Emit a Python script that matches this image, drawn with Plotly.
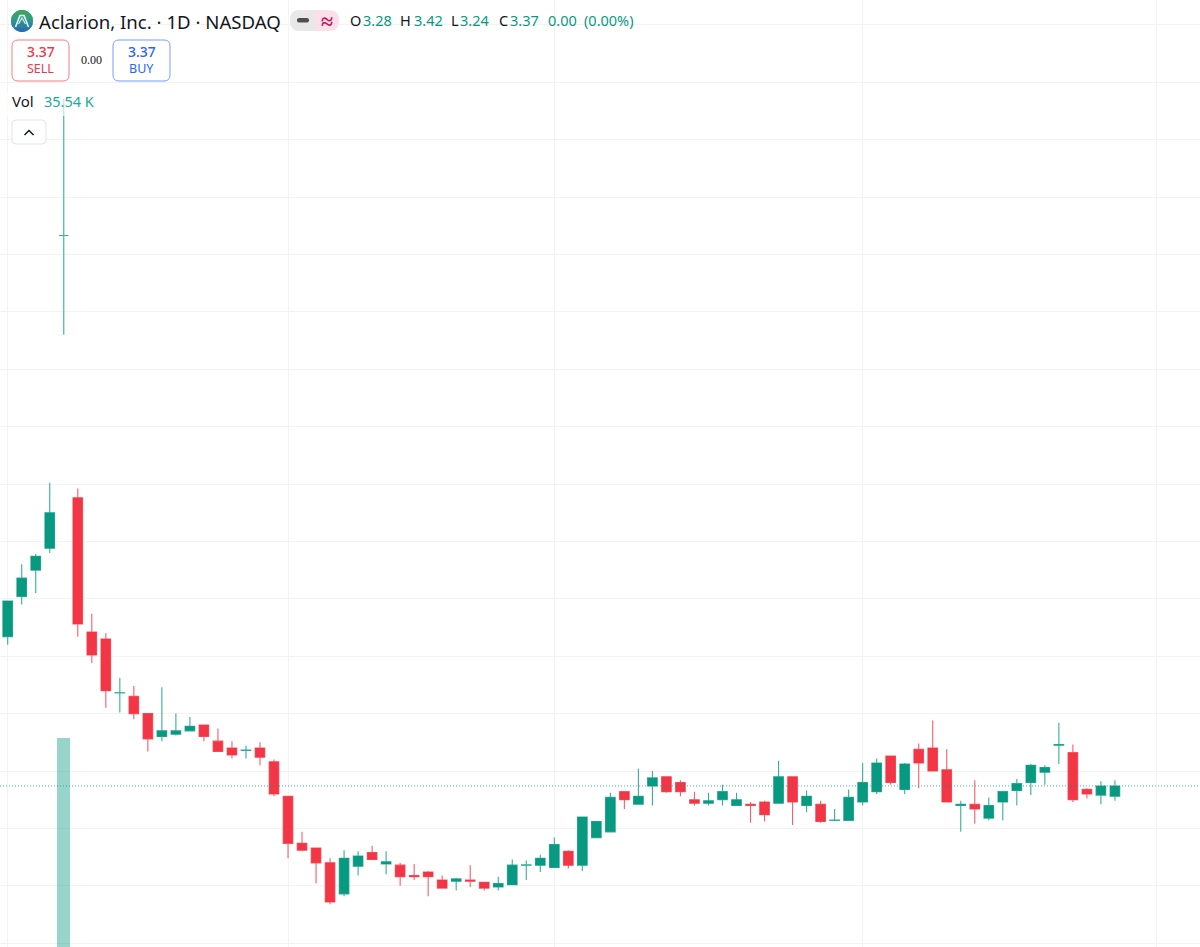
import plotly.graph_objects as go

# Precios diarios (80 velas)
opens = [4.67, 5.02, 5.25, 5.44, 8.165, 5.88, 4.71, 4.65, 4.18, 4.15,
         4.00, 3.80, 3.82, 3.85, 3.90, 3.76, 3.70, 3.68, 3.70, 3.58,
         3.28, 2.87, 2.83, 2.70, 2.43, 2.67, 2.79, 2.69, 2.68, 2.59,
         2.62, 2.55, 2.54, 2.55, 2.53, 2.49, 2.51, 2.68, 2.68, 2.66,
         2.80, 2.68, 2.92, 2.97, 3.32, 3.21, 3.37, 3.45, 3.40, 3.25,
         3.22, 3.25, 3.20, 3.21, 3.23, 3.22, 3.45, 3.20, 3.21, 3.07,
         3.07, 3.23, 3.32, 3.63, 3.34, 3.69, 3.70, 3.51, 3.20, 3.21,
         3.09, 3.23, 3.33, 3.40, 3.49, 3.725, 3.66, 3.34, 3.29, 3.28]
highs = [4.98, 5.30, 5.39, 6.01, 9.36, 5.96, 4.87, 4.70, 4.31, 4.24,
         4.00, 4.23, 4.00, 3.97, 3.90, 3.87, 3.76, 3.72, 3.75, 3.60,
         3.28, 2.97, 2.83, 2.74, 2.81, 2.80, 2.85, 2.80, 2.70, 2.69,
         2.63, 2.59, 2.57, 2.68, 2.53, 2.58, 2.73, 2.72, 2.77, 2.92,
         2.81, 3.10, 3.06, 3.31, 3.32, 3.52, 3.50, 3.45, 3.42, 3.32,
         3.31, 3.38, 3.31, 3.23, 3.24, 3.59, 3.45, 3.33, 3.24, 3.17,
         3.34, 3.57, 3.61, 3.63, 3.57, 3.74, 3.94, 3.69, 3.24, 3.42,
         3.27, 3.32, 3.43, 3.56, 3.55, 3.92, 3.73, 3.35, 3.41, 3.42]
lows = [4.60, 4.95, 5.05, 5.40, 7.30, 4.67, 4.44, 4.05, 4.01, 3.95,
        3.67, 3.76, 3.81, 3.85, 3.76, 3.67, 3.61, 3.61, 3.55, 3.28,
        2.74, 2.80, 2.52, 2.34, 2.41, 2.59, 2.73, 2.60, 2.50, 2.55,
        2.41, 2.48, 2.46, 2.49, 2.46, 2.46, 2.51, 2.55, 2.62, 2.66,
        2.65, 2.63, 2.92, 2.97, 3.17, 3.21, 3.20, 3.31, 3.28, 3.20,
        3.20, 3.20, 3.20, 3.05, 3.06, 3.22, 3.03, 3.14, 3.05, 3.07,
        3.07, 3.20, 3.30, 3.38, 3.30, 3.35, 3.50, 3.23, 2.97, 3.04,
        3.07, 3.07, 3.20, 3.29, 3.38, 3.56, 3.23, 3.26, 3.21, 3.24]
closes = [4.98, 5.18, 5.37, 5.75, 8.165, 4.78, 4.51, 4.20, 4.182, 4.00,
          3.78, 3.85, 3.85, 3.89, 3.80, 3.67, 3.64, 3.682, 3.62, 3.30,
          2.87, 2.81, 2.70, 2.36, 2.74, 2.76, 2.73, 2.71, 2.58, 2.58,
          2.58, 2.48, 2.56, 2.54, 2.48, 2.52, 2.68, 2.682, 2.74, 2.86,
          2.68, 3.10, 3.06, 3.27, 3.25, 3.28, 3.44, 3.32, 3.32, 3.22,
          3.24, 3.32, 3.25, 3.20, 3.12, 3.45, 3.23, 3.28, 3.06, 3.072,
          3.27, 3.40, 3.57, 3.40, 3.56, 3.57, 3.50, 3.23, 3.21, 3.17,
          3.20, 3.32, 3.39, 3.55, 3.53, 3.73, 3.25, 3.30, 3.37, 3.37]
sessions = list(range(len(opens)))

# Volumen: solo la barra de la vela 4 se distingue; la ultima sale en la leyenda
volume_sessions = [4, 79]
volume_values = [18000000, 35540]

price_ticks = [2.0, 2.5, 3.0, 3.5, 4.0, 4.5, 5.0, 5.5, 6.0, 6.5, 7.0, 7.5, 8.0, 8.5, 9.0, 9.5, 10.0]
session_ticks = [0, 20, 39, 61, 82]

last_close = 3.37
UP = "#089981"
DOWN = "#f23645"
W, H = 1200, 947


def px(x):
    return x / W


def py(y):
    return 1 - y / H


def pth(*cmds):
    # lista plana de comandos SVG en pixeles de pantalla -> coordenadas paper
    out = []
    for c in cmds:
        if c[0] == "Z":
            out.append("Z")
        elif c[0] == "Q":
            out.append(f"Q {px(c[1])} {py(c[2])} {px(c[3])} {py(c[4])}")
        else:
            out.append(f"{c[0]} {px(c[1])} {py(c[2])}")
    return " ".join(out)


def box(x0, y0, x1, y1, r):
    return pth(("M", x0 + r, y0), ("L", x1 - r, y0), ("Q", x1, y0, x1, y0 + r),
               ("L", x1, y1 - r), ("Q", x1, y1, x1 - r, y1),
               ("L", x0 + r, y1), ("Q", x0, y1, x0, y1 - r),
               ("L", x0, y0 + r), ("Q", x0, y0, x0 + r, y0), ("Z",))


def solid(path, fill):
    return dict(type="path", xref="paper", yref="paper", path=path, fillcolor=fill, line=dict(width=0))


def stroke(path, color, width):
    return dict(type="path", xref="paper", yref="paper", path=path, line=dict(color=color, width=width))


def outlined(path, color):
    return dict(type="path", xref="paper", yref="paper", path=path, fillcolor="white", line=dict(color=color, width=1))


def label(x, y, text, size=14, color="#131722", family="Noto Sans", anchor="left", weight=400):
    return dict(
        x=px(x), y=py(y), xref="paper", yref="paper", text=text, showarrow=False,
        xanchor=anchor, yanchor="middle", borderpad=0,
        font=dict(size=size, color=color, family=family, weight=weight),
    )


fig = go.Figure()

fig.add_trace(go.Bar(
    x=volume_sessions, y=volume_values, yaxis="y2", width=0.95,
    marker=dict(color="rgba(8,153,129,0.42)", line=dict(width=0)),
    hoverinfo="skip",
))

fig.add_trace(go.Candlestick(
    x=sessions, open=opens, high=highs, low=lows, close=closes,
    whiskerwidth=0,
    increasing=dict(line=dict(color="rgba(8,153,129,0.8)", width=1.1), fillcolor=UP),
    decreasing=dict(line=dict(color="rgba(242,54,69,0.8)", width=1.1), fillcolor=DOWN),
))

shapes = [
    # linea del ultimo precio
    dict(type="line", xref="paper", x0=0, x1=1, yref="y", y0=last_close, y1=last_close,
         line=dict(color="rgba(8,153,129,0.75)", width=1, dash="1px,2px")),
    # fondo de la fila Vol
    dict(type="rect", xref="paper", yref="paper", x0=px(4), x1=px(100), y0=py(116), y1=py(92),
         fillcolor="rgba(255,255,255,0.65)", line=dict(width=0)),
    # logo: bandas del degradado verde-azul
    dict(type="circle", xref="paper", yref="paper", x0=px(11), x1=px(33), y0=py(32), y1=py(10),
         fillcolor="#2f9490", line=dict(width=0)),
    solid(pth(("M", 13.2, 14.4), ("Q", 22, 5.6, 30.8, 14.4), ("Z",)), "#3ca55c"),
    solid(pth(("M", 13.2, 14.4), ("L", 30.8, 14.4), ("Q", 32.6, 16.2, 32.78, 18.8),
              ("L", 11.22, 18.8), ("Q", 11.4, 16.2, 13.2, 14.4), ("Z",)), "#35a078"),
    solid(pth(("M", 13.2, 27.6), ("L", 30.8, 27.6), ("Q", 32.6, 25.8, 32.78, 23.2),
              ("L", 11.22, 23.2), ("Q", 11.4, 25.8, 13.2, 27.6), ("Z",)), "#2c83a0"),
    solid(pth(("M", 13.2, 27.6), ("Q", 22, 36.4, 30.8, 27.6), ("Z",)), "#2a6fb0"),
    stroke(pth(("M", 15.5, 27), ("L", 20, 15.5), ("L", 24, 15.5), ("L", 28.5, 27)), "rgba(255,255,255,0.9)", 1.6),
    stroke(pth(("M", 18.5, 24), ("L", 22, 18), ("L", 25.5, 24)), "rgba(255,255,255,0.8)", 1.2),
    # pastilla de estado
    solid(box(290, 10, 339, 31, 10), "#fcdfe9"),
    solid(pth(("M", 315, 10), ("L", 300, 10), ("Q", 290, 10, 290, 20.5),
              ("Q", 290, 31, 300, 31), ("L", 315, 31), ("Z",)), "#e8e8e8"),
    solid(box(297, 18, 309, 22.5, 2), "#4f4f4f"),
    # botones
    outlined(box(12, 40, 69, 81, 6), "#f77c80"),
    outlined(box(113, 40, 170, 81, 6), "#7a9bff"),
    outlined(box(12, 120, 46, 144, 4), "#e0e3eb"),
    stroke(pth(("M", 24.5, 135), ("L", 29, 130.5), ("L", 33.5, 135)), "#131722", 1.5),
]

annotations = [
    label(38, 21, "Aclarion, Inc. · 1D · NASDAQ", size=18.6),
    label(327, 20, "≈", size=22, color="#c2185b", anchor="center", weight=700),
    label(349, 20, "O", size=14.5),
    label(362, 20, "3.28", size=14.5, color=UP),
    label(399, 20, "H", size=14.5),
    label(413, 20, "3.42", size=14.5, color=UP),
    label(450, 20, "L", size=14.5),
    label(459, 20, "3.24", size=14.5, color=UP),
    label(498, 20, "C", size=14.5),
    label(509, 20, "3.37", size=14.5, color=UP),
    label(547, 20, "0.00", size=14.5, color=UP),
    label(583, 20, "(0.00%)", size=14.5, color=UP),
    label(40.5, 51, "3.37", size=14, color=DOWN, anchor="center", weight=500),
    label(40.5, 68.5, "SELL", size=12.5, color=DOWN, anchor="center"),
    label(91, 60, "0.00", size=12, family="Liberation Serif", anchor="center"),
    label(141.5, 51, "3.37", size=14, color="#2962ff", anchor="center", weight=500),
    label(141.5, 68.5, "BUY", size=12.5, color="#2962ff", anchor="center"),
    label(11, 101, "Vol", size=15),
    label(43, 101, "35.54 K", size=14.5, color="#22ab94"),
]

fig.update_layout(
    width=W, height=H,
    margin=dict(l=0, r=0, t=0, b=0),
    paper_bgcolor="white", plot_bgcolor="white",
    showlegend=False,
    boxgap=0.02,
    bargap=0,
    xaxis=dict(
        range=[-0.55, 85.07], rangeslider=dict(visible=False),
        tickvals=session_ticks, showticklabels=False, ticks="",
        showgrid=True, gridcolor="#f3f3f3", gridwidth=1, zeroline=False, showline=False,
    ),
    yaxis=dict(
        range=[1.967, 10.216],
        tickvals=price_ticks, showticklabels=False, ticks="",
        showgrid=True, gridcolor="#f3f3f3", gridwidth=1, zeroline=False, showline=False,
    ),
    yaxis2=dict(
        overlaying="y", range=[0, 81500000], visible=False, showgrid=False,
    ),
    shapes=shapes,
    annotations=annotations,
)

fig.write_html(
    "out.html",
    config=dict(displayModeBar=False),
    post_script="document.body.style.margin='0';document.body.style.overflow='hidden';",
)
